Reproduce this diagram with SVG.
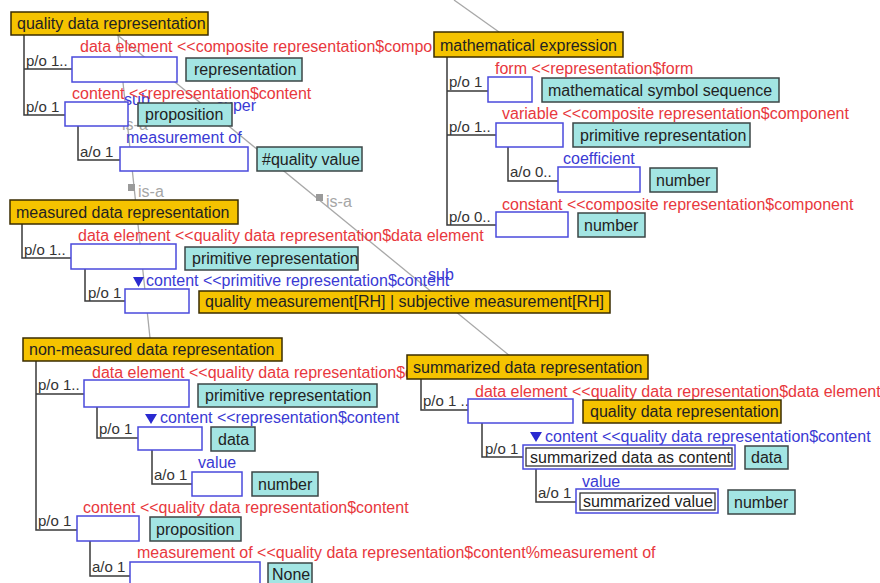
<svg xmlns="http://www.w3.org/2000/svg" width="880" height="583" viewBox="0 0 880 583">
  <style>
    text { font-family: "Liberation Sans", Arial, sans-serif; font-size: 16px; fill: #222; }
    .hdr { fill: #f5c300; stroke: #3a2c00; stroke-width: 1.5; }
    .typ { fill: #a3e5e3; stroke: #3b4646; stroke-width: 1.5; }
    .slot { fill: #fff; stroke: #4a4adc; stroke-width: 1.5; }
    .inner { fill: #fff; stroke: #333; stroke-width: 1.3; }
    .tree { fill: none; stroke: #3a3a3a; stroke-width: 1.5; }
    .isa { fill: none; stroke: #a8a8a8; stroke-width: 1.3; }
    .mk { fill: #9a9a9a; }
    .tri { fill: #2a2ad0; }
    .lbl { fill: #333; font-size: 15px; }
    .red { fill: #e8383d; }
    .blue { fill: #3a3ad4; }
    .gray { fill: #a6a6a6; }
  </style>

  <!-- is-a / sub-super links between concepts -->
  <g id="connectors">
    <line class="isa" x1="115" y1="33" x2="510" y2="356"/>
    <line class="isa" x1="118" y1="35" x2="150" y2="338"/>
    <line class="isa" x1="454" y1="0" x2="499" y2="32"/>
    <rect class="mk" x="316" y="194" width="7" height="7"/>
    <text class="gray" x="326" y="207">is-a</text>
    <rect class="mk" x="128" y="184" width="7" height="7"/>
    <text class="gray" x="138" y="197">is-a</text>
    <text class="gray" x="122" y="130">is-a</text>
    <text class="blue" x="124" y="105">sub</text>
    <text class="blue" x="216" y="111">super</text>
    <text class="blue" x="428" y="280">sub</text>
  </g>

  <!-- quality data representation -->
  <g id="quality-data-representation">
    <path class="tree" d="M24 35V115H65M24 69H72M78 126V160H120"/>
    <text class="lbl" x="26" y="66">p/o 1..</text>
    <text class="lbl" x="26" y="112">p/o 1</text>
    <text class="lbl" x="80" y="157">a/o 1</text>
    <text class="red" x="80" y="52">data element &lt;&lt;composite representation$compo</text>
    <rect class="slot" x="72" y="57" width="105" height="25"/>
    <rect class="typ" x="186" y="58" width="116" height="23"/>
    <text x="194" y="75">representation</text>
    <text class="red" x="72" y="99">content &lt;&lt;representation$content</text>
    <rect class="slot" x="65" y="102" width="63" height="24"/>
    <rect class="typ" x="138" y="103" width="94" height="23"/>
    <text x="145" y="120">proposition</text>
    <text class="blue" x="126" y="143">measurement of</text>
    <rect class="slot" x="120" y="147" width="128" height="24"/>
    <rect class="typ" x="257" y="147" width="105" height="24"/>
    <text x="262" y="165">#quality value</text>
    <rect class="hdr" x="11" y="12" width="197" height="23"/>
    <text x="17" y="29">quality data representation</text>
  </g>

  <!-- mathematical expression -->
  <g id="mathematical-expression">
    <path class="tree" d="M447 57V225H496M447 91H488M447 135H496M508 147V181H558"/>
    <rect class="hdr" x="434" y="32" width="189" height="25"/>
    <text x="440" y="51">mathematical expression</text>
    <text class="lbl" x="449" y="87">p/o 1</text>
    <text class="lbl" x="449" y="132">p/o 1..</text>
    <text class="lbl" x="510" y="177">a/o 0..</text>
    <text class="lbl" x="449" y="222">p/o 0..</text>
    <text class="red" x="495" y="74">form &lt;&lt;representation$form</text>
    <rect class="slot" x="488" y="77" width="44" height="25"/>
    <rect class="typ" x="542" y="78" width="237" height="24"/>
    <text x="548" y="96">mathematical symbol sequence</text>
    <text class="red" x="502" y="119">variable &lt;&lt;composite representation$component</text>
    <rect class="slot" x="496" y="123" width="67" height="24"/>
    <rect class="typ" x="573" y="123" width="177" height="24"/>
    <text x="580" y="141">primitive representation</text>
    <text class="blue" x="563" y="164">coefficient</text>
    <rect class="slot" x="558" y="167" width="82" height="25"/>
    <rect class="typ" x="650" y="168" width="67" height="24"/>
    <text x="656" y="186">number</text>
    <text class="red" x="502" y="210">constant &lt;&lt;composite representation$component</text>
    <rect class="slot" x="496" y="212" width="72" height="25"/>
    <rect class="typ" x="578" y="213" width="67" height="24"/>
    <text x="584" y="231">number</text>
  </g>

  <!-- measured data representation -->
  <g id="measured-data-representation">
    <path class="tree" d="M22 224V258H71M85 269V301H125"/>
    <rect class="hdr" x="10" y="200" width="228" height="24"/>
    <text x="16" y="218">measured data representation</text>
    <text class="lbl" x="24" y="255">p/o 1..</text>
    <text class="lbl" x="88" y="298">p/o 1</text>
    <text class="red" x="78" y="241">data element &lt;&lt;quality data representation$data element</text>
    <rect class="slot" x="71" y="244" width="105" height="25"/>
    <rect class="typ" x="185" y="247" width="173" height="23"/>
    <text x="192" y="264">primitive representation</text>
    <path class="tri" d="M133 277H144L138.5 287Z"/>
    <text class="blue" x="146" y="286">content &lt;&lt;primitive representation$content</text>
    <rect class="slot" x="125" y="289" width="64" height="24"/>
    <rect class="hdr" x="199" y="291" width="411" height="22"/>
    <text x="205" y="307">quality measurement[RH] | subjective measurement[RH]</text>
  </g>

  <!-- non-measured data representation -->
  <g id="non-measured-data-representation">
    <path class="tree" d="M36 361V530H77M36 394H84M97 407V438H138M152 450V484H192M90 541V576H130"/>
    <rect class="hdr" x="23" y="338" width="259" height="23"/>
    <text x="29" y="355">non-measured data representation</text>
    <text class="lbl" x="38" y="390">p/o 1..</text>
    <text class="lbl" x="99" y="434">p/o 1</text>
    <text class="lbl" x="154" y="480">a/o 1</text>
    <text class="lbl" x="38" y="526">p/o 1</text>
    <text class="lbl" x="92" y="572">a/o 1</text>
    <text class="red" x="92" y="378">data element &lt;&lt;quality data representation$d</text>
    <rect class="slot" x="84" y="380" width="105" height="27"/>
    <rect class="typ" x="198" y="384" width="179" height="23"/>
    <text x="205" y="401">primitive representation</text>
    <path class="tri" d="M145 414H157L151 424Z"/>
    <text class="blue" x="160" y="423">content &lt;&lt;representation$content</text>
    <rect class="slot" x="138" y="427" width="64" height="23"/>
    <rect class="typ" x="211" y="427" width="44" height="24"/>
    <text x="218" y="445">data</text>
    <text class="blue" x="198" y="468">value</text>
    <rect class="slot" x="192" y="472" width="50" height="24"/>
    <rect class="typ" x="252" y="472" width="66" height="24"/>
    <text x="258" y="490">number</text>
    <text class="red" x="83" y="513">content &lt;&lt;quality data representation$content</text>
    <rect class="slot" x="77" y="516" width="62" height="25"/>
    <rect class="typ" x="150" y="517" width="91" height="24"/>
    <text x="156" y="535">proposition</text>
    <text class="red" x="137" y="558">measurement of &lt;&lt;quality data representation$content%measurement of</text>
    <rect class="slot" x="130" y="562" width="130" height="26"/>
    <rect class="typ" x="268" y="563" width="44" height="25"/>
    <text x="272" y="580">None</text>
  </g>

  <!-- summarized data representation -->
  <g id="summarized-data-representation">
    <path class="tree" d="M421 379V410H468M482 423V457H523M536 469V502H576"/>
    <rect class="hdr" x="407" y="355" width="241" height="24"/>
    <text x="413" y="373">summarized data representation</text>
    <text class="lbl" x="423" y="406">p/o 1 ..</text>
    <text class="lbl" x="485" y="454">p/o 1</text>
    <text class="lbl" x="538" y="498">a/o 1</text>
    <text class="red" x="475" y="397">data element &lt;&lt;quality data representation$data element</text>
    <rect class="slot" x="468" y="399" width="105" height="24"/>
    <rect class="hdr" x="583" y="400" width="198" height="23"/>
    <text x="590" y="417">quality data representation</text>
    <path class="tri" d="M530 432H542L536 442Z"/>
    <text class="blue" x="545" y="442">content &lt;&lt;quality data representation$content</text>
    <rect class="slot" x="523" y="445" width="212" height="24"/>
    <rect class="inner" x="526" y="448" width="206" height="18"/>
    <text x="530" y="463">summarized data as content</text>
    <rect class="typ" x="745" y="446" width="43" height="23"/>
    <text x="751" y="463">data</text>
    <text class="blue" x="582" y="487">value</text>
    <rect class="slot" x="576" y="489" width="142" height="24"/>
    <rect class="inner" x="580" y="493" width="135" height="17"/>
    <text x="583" y="507">summarized value</text>
    <rect class="typ" x="728" y="490" width="67" height="24"/>
    <text x="734" y="508">number</text>
  </g>
</svg>
